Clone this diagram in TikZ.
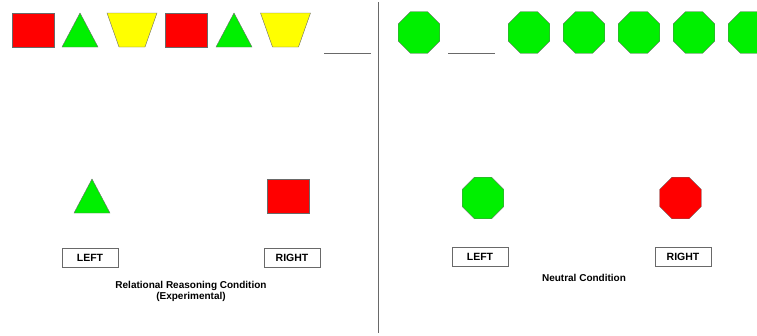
\documentclass[tikz,border=0pt]{standalone}
\usepackage{fontspec}
\setmainfont{Liberation Sans}
\usetikzlibrary{shapes.geometric, positioning}

\definecolor{shapered}{RGB}{255,0,0}
\definecolor{shapegreen}{RGB}{0,240,0}
\definecolor{shapeyellow}{RGB}{255,255,0}
\definecolor{edgegray}{RGB}{105,105,105}

\begin{document}
\begin{tikzpicture}[
        x=1pt, y=-1pt,
        on grid,
        every node/.style={inner sep=0pt, outer sep=0pt},
        % --- shapes of the sequences ---
        sq/.style={rectangle, draw=edgegray, fill=shapered,
            minimum width=42pt, minimum height=34pt},
        tri/.style={isosceles triangle, shape border rotate=90,
            isosceles triangle stretches, draw=edgegray, fill=shapegreen,
            minimum width=36pt, minimum height=34pt},
        trapframe/.style={rectangle, minimum width=50pt, minimum height=34pt},
        trapfill/.style={draw=edgegray, fill=shapeyellow},
        oct/.style={regular polygon, regular polygon sides=8,
            minimum size=45pt, draw=edgegray, fill=shapegreen},
        % --- answer buttons and captions ---
        answer/.style={rectangle, draw=edgegray, minimum width=56pt,
            minimum height=19pt, font=\bfseries\fontsize{10.5}{12}\selectfont},
        caption/.style={font=\bfseries\fontsize{10}{11.5}\selectfont, align=center},
        blank/.style={draw=edgegray, line width=0.8pt}
    ]

    \useasboundingbox (0,0) rectangle (757,335);
    \clip (0,0) rectangle (757,335);

    % --- Relational reasoning: sequence ---
    \node[sq] (sqa) at (33,30) {};
    \node[tri, right=47pt of sqa.south, anchor=south] (tria) {};
    \node[trapframe, right=99pt of sqa] (trapa) {};
    \node[sq, right=54.5pt of trapa] (sqb) {};
    \node[tri, right=47.5pt of sqb.south, anchor=south] (trib) {};
    \node[trapframe, right=99pt of sqb] (trapb) {};
    \foreach \t in {trapa, trapb}
        \draw[trapfill] (\t.north west) -- (\t.north east)
            -- ([xshift=-12pt]\t.south east) -- ([xshift=12pt]\t.south west) -- cycle;
    \draw[blank] (324,53) -- (371,53);

    % --- Relational reasoning: choices ---
    \node[tri, anchor=south] (choiceL) at (92,213) {};
    \node[sq] (choiceR) at (288.5,196) {};
    \node[answer] (leftA) at (90,257.5) {LEFT};
    \node[answer] (rightA) at (292,257.5) {RIGHT};
    \node[caption] (capA) at (191,291.5) {Relational Reasoning Condition\\(Experimental)};

    % --- Divider ---
    \draw[edgegray, line width=0.8pt] (378,2) -- (378,333);

    % --- Neutral: sequence ---
    \node[oct] (octa) at (419,32.5) {};
    \draw[blank] (448,53) -- (495,53);
    \node[oct, right=110pt of octa] (octb) {};
    \node[oct, right=55pt of octb] (octc) {};
    \node[oct, right=55pt of octc] (octd) {};
    \node[oct, right=55pt of octd] (octe) {};
    \node[oct, right=55pt of octe] (octf) {};

    % --- Neutral: choices ---
    \node[oct] (choiceNL) at (483,198) {};
    \node[oct, fill=shapered] (choiceNR) at (680.5,198) {};
    \node[answer] (leftB) at (480,256.5) {LEFT};
    \node[answer] (rightB) at (683,256.5) {RIGHT};
    \node[caption] (capB) at (584,278) {Neutral Condition};

\end{tikzpicture}
\end{document}
